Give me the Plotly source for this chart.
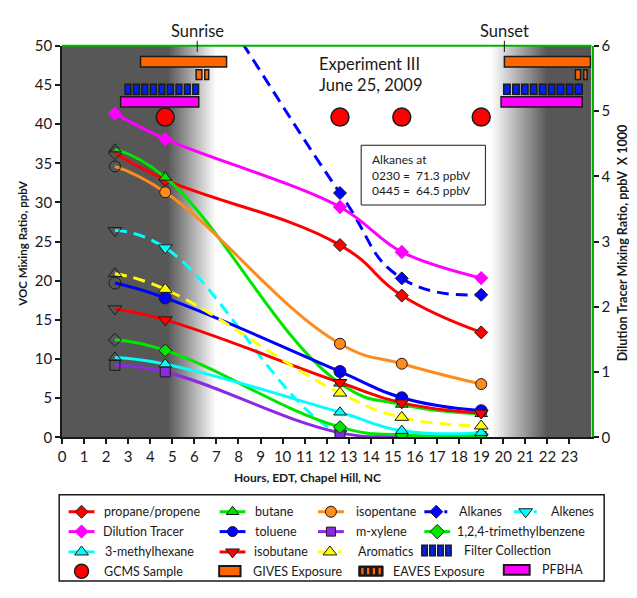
import plotly.graph_objects as go

# ----------------------------- data -----------------------------
hours = [2.4, 4.68, 12.6, 15.4, 19.0]

propane_propene  = [36.3, 32.9, 24.55, 18.1, 13.4]
butane           = [36.8, 33.2, 6.9, 4.2, 3.0]
isopentane       = [34.6, 31.3, 11.95, 9.4, 6.8]
alkanes          = [71.3, 64.5, 31.2, 20.3, 18.2]
alkenes          = [26.4, 24.2, 0.45, 0.05, 0.05]
dilution_tracer  = [4.96, 4.57, 3.53, 2.84, 2.44]   # right axis (ppbV x 1000)
toluene          = [19.7, 17.8, 8.4, 5.05, 3.4]
m_xylene         = [9.2, 8.35, 0.6, 0.1, 0.1]
trimethylbenzene = [12.45, 11.1, 1.3, 0.3, 0.25]
methylhexane     = [10.2, 9.35, 3.2, 0.85, 0.6]
isobutane        = [16.4, 15.0, 7.0, 4.4, 3.1]
aromatics        = [20.9, 18.9, 5.65, 2.55, 1.45]

gcms_hours = [4.68, 12.6, 15.4, 19.0]
gcms_level = [40.9, 40.9, 40.9, 40.9]

gives_start = [3.56, 20.05]
gives_end   = [7.46, 23.95]
eaves_start = [6.08, 6.47, 23.27, 23.65]
eaves_end   = [6.34, 6.65, 23.50, 23.80]
filter_start = [2.86, 3.24, 3.62, 4.01, 4.40, 4.78, 5.17, 5.55, 5.93,
                20.02, 20.43, 20.83, 21.23, 21.64, 22.05, 22.45, 22.86, 23.26]
filter_end   = [3.12, 3.50, 3.88, 4.27, 4.66, 5.04, 5.43, 5.81, 6.19,
                20.31, 20.72, 21.12, 21.52, 21.93, 22.34, 22.74, 23.15, 23.58]
pfbha_start = [2.66, 19.90]
pfbha_end   = [6.20, 23.58]

sunrise_hour = 6.13
sunset_hour = 20.05
night_end = 4.8       # darkness fades out between these hours
dawn_end = 7.0
dusk_start = 19.45
dusk_end = 22.0

x_tick_values = list(range(0, 24))

# ----------------------------- layout helpers -----------------------------
# The page keeps the browser's default 8px body margin, so the figure is
# 16px smaller than the window and every page position p maps to p - 8.
PAGE_W, PAGE_H = 637, 598
OFF = 8
W, H = PAGE_W - 2 * OFF, PAGE_H - 2 * OFF
FONT = "Lato"
TXT = "#1a1a1a"
PL, PR, PT, PB = 58.3, 591.3, 36.7, 440.7   # plot area in page pixels


def fx(p):
    return (p - OFF) / W


def fy(p):
    return 1 - (p - OFF) / H


DARK = 87

fig = go.Figure()
shapes = []
annotations = []

# background night shading
shapes.append(dict(type="rect", xref="x", yref="y", x0=0, x1=night_end + 0.05, y0=0, y1=50,
                   fillcolor=f"rgb({DARK},{DARK},{DARK})", line=dict(width=0), layer="below"))
shapes.append(dict(type="rect", xref="x", yref="y", x0=dusk_end - 0.05, x1=24, y0=0, y1=50,
                   fillcolor=f"rgb({DARK},{DARK},{DARK})", line=dict(width=0), layer="below"))
N = 40
d1 = (dawn_end - night_end) / N
d2 = (dusk_end - dusk_start) / N
for i in range(N):
    t = (i + 0.5) / N
    c = int(round(DARK + (255 - DARK) * t))
    a = night_end + d1 * i
    shapes.append(dict(type="rect", xref="x", yref="y", x0=a, x1=a + 2.2 * d1, y0=0, y1=50,
                       fillcolor=f"rgb({c},{c},{c})", line=dict(width=0), layer="below"))
for i in range(N):
    t = (i + 0.5) / N
    c2 = int(round(DARK + (255 - DARK) * t))
    b2 = dusk_end - d2 * i
    shapes.append(dict(type="rect", xref="x", yref="y", x0=b2 - 2.2 * d2, x1=b2, y0=0, y1=50,
                       fillcolor=f"rgb({c2},{c2},{c2})", line=dict(width=0), layer="below"))

# ----------------------------- series -----------------------------
HOLLOW = "rgba(0,0,0,0)"
SMOOTH = 1.3
voc_series = [
    ("propane/propene", propane_propene, "#ff0000", "diamond", None, 10),
    ("butane", butane, "#00e600", "triangle-up", None, 11),
    ("isopentane", isopentane, "#ff8c1a", "circle", None, 11),
    ("Alkanes", alkanes, "#0000ff", "diamond", "12px,7px", 10),
    ("Alkenes", alkenes, "#00ffff", "triangle-down", "12px,7px", 12),
    ("toluene", toluene, "#0000ff", "circle", None, 12),
    ("m-xylene", m_xylene, "#8a2be2", "square", None, 10),
    ("1,2,4-trimethylbenzene", trimethylbenzene, "#00e600", "diamond", None, 10),
    ("3-methylhexane", methylhexane, "#00ffff", "triangle-up", None, 11),
    ("isobutane", isobutane, "#ff0000", "triangle-down", None, 12),
    ("Aromatics", aromatics, "#ffff00", "triangle-up", "12px,7px", 12),
]

for name, vals, col, sym, dash, size in voc_series:
    fills = [HOLLOW] + [col] * (len(vals) - 1)
    fig.add_trace(go.Scatter(
        x=hours, y=vals, name=name, mode="lines+markers",
        line=dict(color=col, width=3, shape="spline", smoothing=SMOOTH, dash=dash or "solid"),
        marker=dict(symbol=sym, size=size, color=fills, line=dict(color="#1a1a1a", width=1)),
        xaxis="x", yaxis="y", showlegend=False, hoverinfo="skip"))

fig.add_trace(go.Scatter(
    x=hours, y=dilution_tracer, name="Dilution Tracer", mode="lines+markers",
    line=dict(color="#ff00ff", width=3, shape="spline", smoothing=1),
    marker=dict(symbol="diamond", size=11, color="#ff00ff"),
    xaxis="x", yaxis="y2", showlegend=False, hoverinfo="skip"))

fig.add_trace(go.Scatter(
    x=gcms_hours, y=gcms_level, name="GCMS Sample", mode="markers",
    marker=dict(symbol="circle", size=18, color="#ff0000", line=dict(color="#1a1a1a", width=1.5)),
    xaxis="x", yaxis="y", showlegend=False, hoverinfo="skip"))


# exposure / collection bars
def bar_rects(starts, ends, y0, y1, fill, lw=1.5):
    for a, b in zip(starts, ends):
        shapes.append(dict(type="rect", xref="x", yref="y", x0=a, x1=b, y0=y0, y1=y1,
                           fillcolor=fill, line=dict(color="#1a1a1a", width=lw), layer="above"))


bar_rects(gives_start, gives_end, 47.3, 48.65, "#ff6600")
bar_rects(eaves_start, eaves_end, 45.7, 46.95, "#ff6600")
bar_rects(filter_start, filter_end, 43.8, 45.1, "#0022ee")
bar_rects(pfbha_start, pfbha_end, 42.2, 43.5, "#ff00ff")

# top border (green)
shapes.append(dict(type="line", xref="paper", yref="paper", x0=fx(PL), x1=fx(PR),
                   y0=fy(PT), y1=fy(PT), line=dict(color="#00b400", width=2)))

# sunrise / sunset markers
for hr, label in [(sunrise_hour, "Sunrise"), (sunset_hour, "Sunset")]:
    shapes.append(dict(type="line", xref="x", yref="paper", x0=hr, x1=hr,
                       y0=fy(31.5), y1=fy(43), line=dict(color="#1a1a1a", width=1)))
    annotations.append(dict(text=label, xref="x", yref="paper", x=hr, y=fy(21.5),
                            xanchor="center", yanchor="middle", showarrow=False,
                            font=dict(family=FONT, size=16.5, color=TXT)))

annotations.append(dict(text="Experiment III<br>June 25, 2009", xref="x", yref="paper",
                        x=11.58, y=fy(66), xanchor="left", yanchor="middle", align="left",
                        showarrow=False, font=dict(family=FONT, size=16.5, color=TXT)))

# alkanes note box
shapes.append(dict(type="rect", xref="x", yref="y", x0=13.56, x1=19.19, y0=29.67, y1=37.3,
                   fillcolor="white", line=dict(color="#1a1a1a", width=1), layer="above"))
nb = "\u00a0"
annotations.append(dict(text=f"Alkanes at<br>0230 ={nb}{nb}71.3 ppbV<br>0445 ={nb}{nb}64.5 ppbV",
                        xref="x", yref="y", x=13.96, y=33.55, xanchor="left", yanchor="middle",
                        align="left", showarrow=False, font=dict(family=FONT, size=12, color=TXT)))

# axis titles
annotations.append(dict(text="<b>VOC Mixing Ratio, ppbV</b>", xref="paper", yref="paper",
                        x=fx(19), y=fy(240), textangle=-90, showarrow=False,
                        xanchor="center", yanchor="middle", font=dict(family=FONT, size=11.5, color=TXT)))
annotations.append(dict(text=f"<b>Dilution Tracer Mixing Ratio, ppbV{nb}{nb}X 1000</b>", xref="paper", yref="paper",
                        x=fx(622.5), y=fy(240), textangle=-90, showarrow=False,
                        xanchor="center", yanchor="middle", font=dict(family=FONT, size=12.5, color=TXT)))
annotations.append(dict(text="<b>Hours, EDT, Chapel Hill, NC</b>", xref="paper", yref="paper",
                        x=fx(305), y=fy(482), showarrow=False,
                        xanchor="center", yanchor="middle", font=dict(family=FONT, size=12, color=TXT)))

# ----------------------------- custom legend -----------------------------
shapes.append(dict(type="rect", xref="x3", yref="y3", x0=55.5, x1=604, y0=500, y1=589,
                   fillcolor="white", line=dict(color="#1a1a1a", width=1.5), layer="below"))

R1, R2, R3, R4 = 517.5, 538, 559, 579
LFS = 12.5


def leg_line(x0, x1, y, col, sym, size, dash=None, mcol=None, border=True):
    fig.add_trace(go.Scatter(x=[x0, x1], y=[y, y], mode="lines", xaxis="x3", yaxis="y3",
                             line=dict(color=col, width=3, dash=dash or "solid"),
                             showlegend=False, hoverinfo="skip"))
    fig.add_trace(go.Scatter(x=[(x0 + x1) / 2 + (0 if dash is None else -1)], y=[y], mode="markers",
                             xaxis="x3", yaxis="y3",
                             marker=dict(symbol=sym, size=size, color=mcol or col,
                                         line=dict(color="#1a1a1a", width=1 if border else 0)),
                             showlegend=False, hoverinfo="skip"))


def leg_text(x, y, s):
    annotations.append(dict(text=s, xref="x3", yref="y3", x=x, y=y, xanchor="left",
                            yanchor="middle", showarrow=False,
                            font=dict(family=FONT, size=LFS, color=TXT)))


DD = "16px,4px,3px,20px"
leg_line(65, 91, R1, "#ff0000", "diamond", 10); leg_text(99, R1, "propane/propene")
leg_line(217, 243, R1, "#00e600", "triangle-up", 11); leg_text(251, R1, "butane")
leg_line(316, 342, R1, "#ff8c1a", "circle", 11); leg_text(352, R1, "isopentane")
leg_line(423, 449, R1, "#0000ff", "diamond", 10, dash=DD); leg_text(456, R1, "Alkanes")
leg_line(513, 539, R1, "#00ffff", "triangle-down", 12, dash=DD); leg_text(548, R1, "Alkenes")

leg_line(65, 91, R2, "#ff00ff", "diamond", 11, border=False); leg_text(98, R2, "Dilution Tracer")
leg_line(217, 243, R2, "#0000ff", "circle", 10); leg_text(251, R2, "toluene")
leg_line(316, 342, R2, "#8a2be2", "square", 9); leg_text(352, R2, "m-xylene")
leg_line(423, 449, R2, "#00e600", "diamond", 11); leg_text(454, R2, "1,2,4-trimethylbenzene")

leg_line(65, 91, R3, "#00ffff", "triangle-up", 12); leg_text(100, R3, "3-methylhexane")
leg_line(217, 243, R3, "#ff0000", "triangle-down", 12); leg_text(250, R3, "isobutane")
leg_line(316, 342, R3, "#ffff00", "triangle-up", 12, dash=DD); leg_text(354, R3, "Aromatics")
for k in range(4):
    shapes.append(dict(type="rect", xref="x3", yref="y3", x0=420.5 + k * 8, x1=426 + k * 8,
                       y0=552, y1=563, fillcolor="#0022ee",
                       line=dict(color="#1a1a1a", width=1.5), layer="above"))
leg_text(461, R3 - 1.5, "Filter Collection")

fig.add_trace(go.Scatter(x=[78], y=[R4], mode="markers", xaxis="x3", yaxis="y3",
                         marker=dict(symbol="circle", size=14, color="#ff0000",
                                     line=dict(color="#1a1a1a", width=1.5)),
                         showlegend=False, hoverinfo="skip"))
leg_text(99, R4, "GCMS Sample")
shapes.append(dict(type="rect", xref="x3", yref="y3", x0=216.5, x1=238, y0=573.5, y1=584,
                   fillcolor="#ff6600", line=dict(color="#1a1a1a", width=2), layer="above"))
leg_text(249, R4, "GIVES Exposure")
shapes.append(dict(type="rect", xref="x3", yref="y3", x0=357, x1=381.5, y0=573.5, y1=584,
                   fillcolor="#1a1a1a", line=dict(color="#1a1a1a", width=1), layer="above"))
for k in range(4):
    shapes.append(dict(type="rect", xref="x3", yref="y3", x0=359.5 + k * 5.8, x1=361.8 + k * 5.8,
                       y0=575.5, y1=582, fillcolor="#ff6600", line=dict(width=0), layer="above"))
leg_text(389, R4, "EAVES Exposure")
shapes.append(dict(type="rect", xref="x3", yref="y3", x0=503, x1=529, y0=572.5, y1=582.5,
                   fillcolor="#ff00ff", line=dict(color="#1a1a1a", width=2), layer="above"))
leg_text(539, R4 - 1.5, "PFBHA")

# ----------------------------- axes -----------------------------
tickfont = dict(family=FONT, size=15, color=TXT)
LEG_TOP = 0.2
fig.update_layout(
    width=W, height=H, autosize=False,
    margin=dict(l=0, r=0, t=0, b=0, pad=0),
    paper_bgcolor="white", plot_bgcolor="white",
    showlegend=False,
    xaxis=dict(domain=[fx(PL), fx(PR)], range=[0, 24], tickmode="array", tickvals=x_tick_values,
               ticks="outside", ticklen=5, tickwidth=1.5, tickcolor="#1a1a1a",
               showline=True, linecolor="#1a1a1a", linewidth=1.5, showgrid=False, zeroline=False,
               tickfont=tickfont, anchor="y", fixedrange=True),
    yaxis=dict(domain=[fy(PB), fy(PT)], range=[0, 50], dtick=5, ticks="outside", ticklen=5,
               tickwidth=1.5, tickcolor="#1a1a1a", showline=True, linecolor="#1a1a1a", linewidth=1.5,
               showgrid=False, zeroline=False, tickfont=tickfont, anchor="x"),
    yaxis2=dict(overlaying="y", side="right", range=[0, 6], dtick=1, ticks="outside", ticklen=5,
                tickwidth=1.5, tickcolor="#1a1a1a", showline=True, linecolor="#00b400", linewidth=2,
                showgrid=False, zeroline=False, tickfont=tickfont, anchor="x"),
    xaxis3=dict(domain=[0, 1], range=[OFF, OFF + W], visible=False, anchor="y3", fixedrange=True),
    yaxis3=dict(domain=[0, LEG_TOP], range=[OFF + H, OFF + H - LEG_TOP * H], visible=False,
                anchor="x3", fixedrange=True),
    shapes=shapes,
    annotations=annotations,
)

fig.write_html("out.html", config={"displayModeBar": False})
